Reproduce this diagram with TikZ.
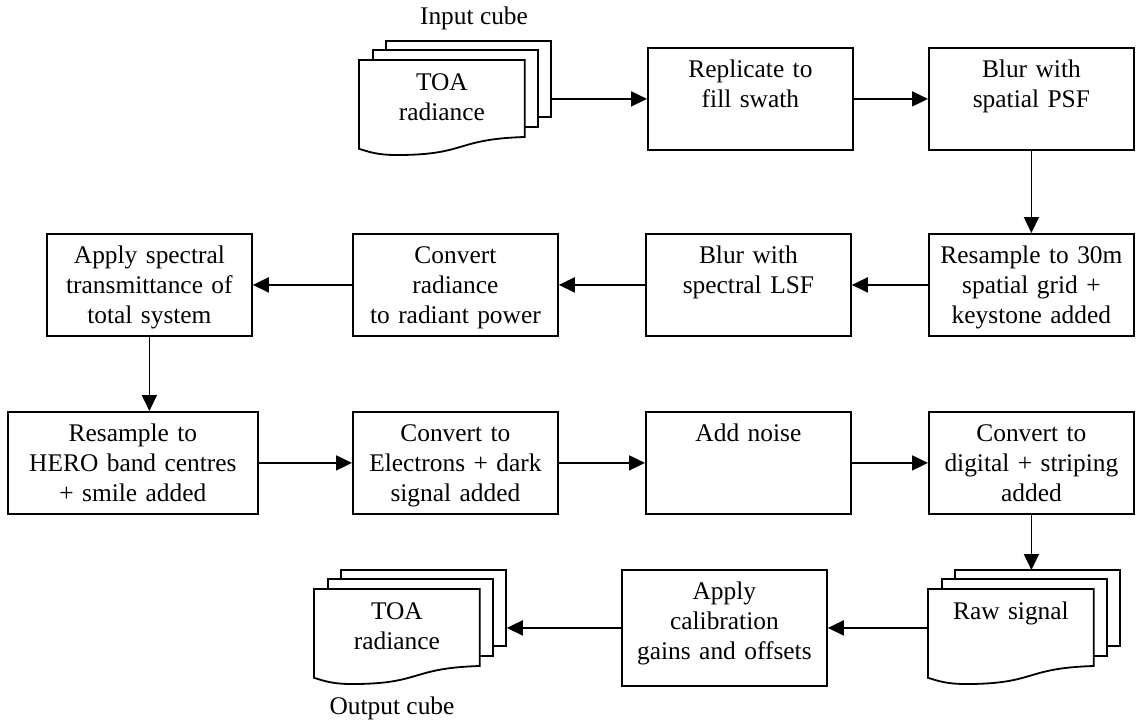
\documentclass[tikz,border=0pt]{standalone}
\usepackage{fontspec}
\setmainfont{Liberation Serif}
\usetikzlibrary{arrows.meta,calc,backgrounds}
\newcommand{\docstack}[1]{%
  \draw[paper] ($(#1.north west)+(27,-19)$) rectangle ++(165,76);
  \draw[paper] ($(#1.north west)+(14,-10)$) rectangle ++(165,77);
  \draw[paper] (#1.north west) -- (#1.north east) -- ++(0,77)
    .. controls +(-70,2) and +(70,0) .. ($(#1.north west)+(38,95)$)
    .. controls +(-20,0) and +(10,3) .. (#1.south west) -- cycle;
}
\begin{document}
\begin{tikzpicture}[
    x=0.5pt, y=-0.5pt,
    every node/.style={font=\fontsize{12.7}{14.8}\selectfont},
    stage/.style={draw, line width=0.9pt, anchor=north west, align=center,
        inner xsep=2pt, inner ysep=0pt, text width=98.5pt,
        text height=15pt, text depth=36pt},
    sheet/.style={anchor=north west, align=center, inner xsep=2pt,
        inner ysep=0pt, text width=78.5pt, text height=15pt, text depth=29pt},
    paper/.style={draw, line width=0.9pt, fill=white},
    flow/.style={-{Triangle[length=8pt,width=7.5pt]}, line width=0.9pt}
]
\useasboundingbox (0,0) rectangle (1145,725);

\node[sheet] (incube) at (359,60) {TOA\\ radiance};
\node (inlabel) at (474,18) {Input cube};
\node[stage] (rep) at (647,47) {Replicate to\\ fill swath};
\node[stage] (psf) at (928,47) {Blur with\\ spatial PSF};

\node[stage] (kst) at (928,233) {Resample to 30m\\ spatial grid +\\ keystone added};
\node[stage] (lsf) at (645,233) {Blur with\\ spectral LSF};
\node[stage] (pow) at (352,233) {Convert\\ radiance\\ to radiant power};
\node[stage] (trn) at (46,233) {Apply spectral\\ transmittance of\\ total system};

\node[stage, text width=121pt] (hero) at (7,411) {Resample to\\ HERO band centres\\ + smile added};
\node[stage] (elec) at (352,411) {Convert to\\ Electrons + dark\\ signal added};
\node[stage] (noise) at (645,411) {Add noise};
\node[stage] (dig) at (928,411) {Convert to\\ digital + striping\\ added};

\node[sheet] (raw) at (928,589) {Raw signal};
\node[stage, text depth=43pt] (cal) at (621,569) {Apply\\ calibration\\ gains and offsets};
\node[sheet] (outcube) at (314,589) {TOA\\ radiance};
\node (outlabel) at (392,708) {Output cube};

\begin{scope}[on background layer]
\docstack{incube}
\docstack{raw}
\docstack{outcube}
\end{scope}

\coordinate (inback) at ($(incube.north east)+(27,-19)$);
\coordinate (rawback) at ($(raw.north west)+(27,-19)$);
\coordinate (outback) at ($(outcube.north east)+(27,-19)$);

\draw[flow] (inback |- rep.west) -- (rep.west);
\draw[flow] (rep) -- (psf);
\draw[flow] (psf) -- (kst);
\draw[flow] (kst) -- (lsf);
\draw[flow] (lsf) -- (pow);
\draw[flow] (pow) -- (trn);
\draw[flow] (trn.south) -- (trn.south |- hero.north);
\draw[flow] (hero) -- (elec);
\draw[flow] (elec) -- (noise);
\draw[flow] (noise) -- (dig);
\draw[flow] (dig.south) -- (dig.south |- rawback);
\draw[flow] (raw.west |- cal.east) -- (cal.east);
\draw[flow] (cal.west) -- (cal.west -| outback);
\end{tikzpicture}
\end{document}
